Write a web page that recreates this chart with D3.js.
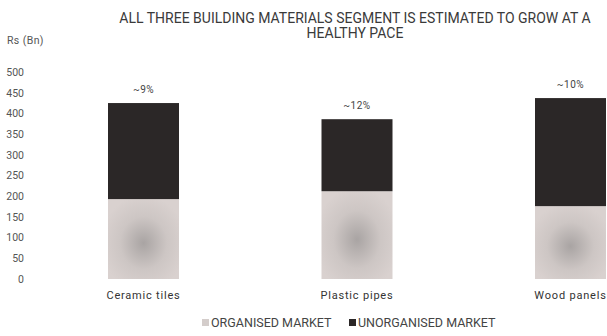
<!DOCTYPE html>
<html>
<head>
<meta charset="utf-8">
<script src="https://cdn.jsdelivr.net/npm/d3@7"></script>
<style>
  body { margin: 0; background: #fff; }
  svg { font-family: Roboto, "DejaVu Sans", sans-serif; }
</style>
</head>
<body>
<div id="chart"></div>
<script>
var categories = ['Ceramic tiles', 'Plastic pipes', 'Wood panels'];
var organised = [193, 212, 176];
var unorganised = [232, 174, 261];
var growthLabels = ['~9%', '~12%', '~10%'];
var yTicks = [0, 50, 100, 150, 200, 250, 300, 350, 400, 450, 500];
var seriesNames = ['ORGANISED MARKET', 'UNORGANISED MARKET'];

var W = 607, H = 336;
var barW = 71;

var svg = d3.select('#chart').append('svg')
  .attr('width', W)
  .attr('height', H);

var defs = svg.append('defs');
var grad = defs.append('radialGradient')
  .attr('id', 'orgGrad')
  .attr('cx', '0.5').attr('cy', '0.55').attr('r', '0.6');
grad.append('stop').attr('offset', '0%').attr('stop-color', '#a9a4a3');
grad.append('stop').attr('offset', '55%').attr('stop-color', '#cdc6c4');
grad.append('stop').attr('offset', '100%').attr('stop-color', '#d9d1cf');

var x = d3.scalePoint()
  .domain(categories)
  .range([143.5, 570.5]);

var y = d3.scaleLinear()
  .domain([0, 500])
  .range([279, 72]);

// title
svg.append('text')
  .attr('x', 355).attr('y', 23)
  .attr('text-anchor', 'middle')
  .attr('font-size', 14)
  .attr('fill', '#3a3a3a')
  .text('ALL THREE BUILDING MATERIALS SEGMENT IS ESTIMATED TO GROW AT A');
svg.append('text')
  .attr('x', 355).attr('y', 38)
  .attr('text-anchor', 'middle')
  .attr('font-size', 14)
  .attr('fill', '#3a3a3a')
  .text('HEALTHY PACE');

svg.append('text')
  .attr('x', 7).attr('y', 44)
  .attr('font-size', 10.5)
  .attr('letter-spacing', 0.4)
  .attr('fill', '#555')
  .text('Rs (Bn)');

// y axis, labels only
var yAxis = d3.axisLeft(y)
  .tickValues(yTicks)
  .tickSize(0)
  .tickPadding(0);

var gy = svg.append('g')
  .attr('transform', 'translate(24,0)')
  .call(yAxis);
gy.select('.domain').remove();
gy.selectAll('text')
  .attr('font-family', 'Roboto, sans-serif')
  .attr('font-size', 10.5)
  .attr('fill', '#555');

// bars
var bars = svg.append('g').selectAll('g')
  .data(categories)
  .enter().append('g');

bars.append('rect')
  .attr('x', function(d) { return x(d) - barW / 2; })
  .attr('width', barW)
  .attr('y', function(d, i) { return y(organised[i]); })
  .attr('height', function(d, i) { return y(0) - y(organised[i]); })
  .attr('fill', 'url(#orgGrad)');

bars.append('rect')
  .attr('x', function(d) { return x(d) - barW / 2; })
  .attr('width', barW)
  .attr('y', function(d, i) { return y(organised[i] + unorganised[i]); })
  .attr('height', function(d, i) { return y(organised[i]) - y(organised[i] + unorganised[i]); })
  .attr('fill', '#2b2727');

bars.append('text')
  .attr('x', function(d) { return x(d); })
  .attr('y', function(d, i) { return y(organised[i] + unorganised[i]) - 10; })
  .attr('text-anchor', 'middle')
  .attr('font-size', 10)
  .attr('letter-spacing', 0.5)
  .attr('fill', '#444')
  .text(function(d, i) { return growthLabels[i]; });

bars.append('text')
  .attr('x', function(d) { return x(d); })
  .attr('y', 299)
  .attr('text-anchor', 'middle')
  .attr('font-size', 11)
  .attr('letter-spacing', 0.8)
  .attr('fill', '#333')
  .text(function(d) { return d; });

// legend
var legend = svg.append('g');
var legendX = [202, 349];
var legendColors = ['#d4cdcb', '#2b2727'];
seriesNames.forEach(function(name, i) {
  legend.append('rect')
    .attr('x', legendX[i]).attr('y', 319)
    .attr('width', 7).attr('height', 7)
    .attr('fill', legendColors[i]);
  legend.append('text')
    .attr('x', legendX[i] + 9).attr('y', 327)
    .attr('font-size', 12.5)
    .attr('fill', '#444')
    .text(name);
});
</script>
</body>
</html>
